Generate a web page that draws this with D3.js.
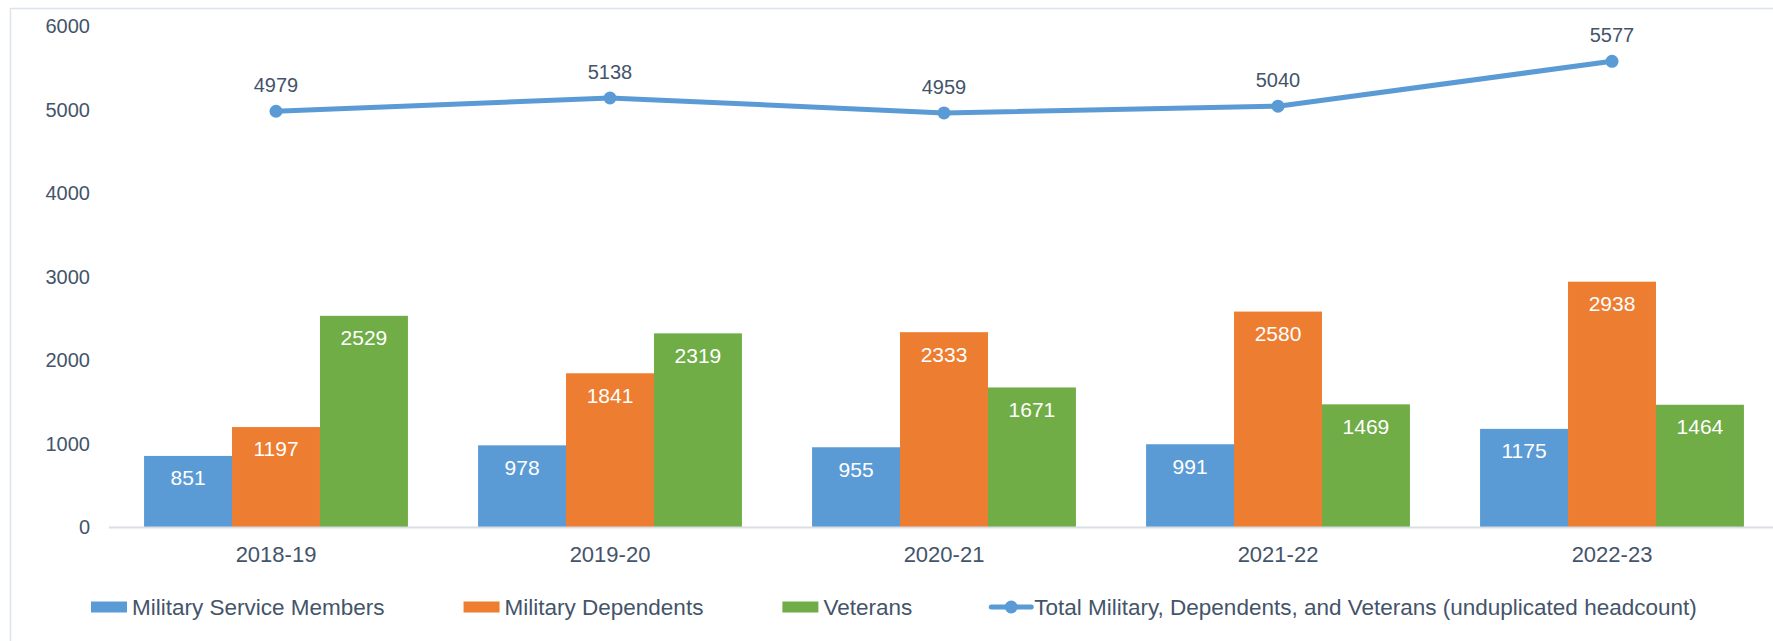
<!DOCTYPE html>
<html>
<head>
<meta charset="utf-8">
<script src="https://cdn.jsdelivr.net/npm/d3@7"></script>
<style>
  body { margin: 0; background: #fff; }
  text { font-family: "Liberation Sans", Arial, sans-serif; }
</style>
</head>
<body>
<script>
const width = 1773;
const height = 641;

const years = ["2018-19", "2019-20", "2020-21", "2021-22", "2022-23"];
const serviceMembers = [851, 978, 955, 991, 1175];
const dependents = [1197, 1841, 2333, 2580, 2938];
const veterans = [2529, 2319, 1671, 1469, 1464];
const totals = [4979, 5138, 4959, 5040, 5577];
const yTicks = [0, 1000, 2000, 3000, 4000, 5000, 6000];

const seriesNames = ["Military Service Members", "Military Dependents", "Veterans"];
const lineName = "Total Military, Dependents, and Veterans (unduplicated headcount)";
const colors = ["#5B9BD5", "#ED7D31", "#70AD47"];
const lineColor = "#5B9BD5";
const textColor = "#44546A";

const svg = d3.select("body").append("svg")
  .attr("width", width)
  .attr("height", height);

// chart frame
svg.append("rect")
  .attr("x", 10.5).attr("y", 8.5)
  .attr("width", width + 20).attr("height", height + 20)
  .attr("fill", "none")
  .attr("stroke", "#dde3ea")
  .attr("stroke-width", 1.5);

const x = d3.scaleBand()
  .domain(years)
  .range([109, 1779])
  .paddingInner(0.21)
  .paddingOuter(0.105);

const x1 = d3.scaleBand()
  .domain(d3.range(3))
  .range([0, x.bandwidth()]);

const y = d3.scaleLinear()
  .domain([0, 6000])
  .range([527, 26]);

const series = [serviceMembers, dependents, veterans];

// y labels
svg.append("g")
  .selectAll("text")
  .data(yTicks)
  .join("text")
  .attr("x", 90)
  .attr("y", d => y(d))
  .attr("dy", "0.35em")
  .attr("text-anchor", "end")
  .attr("font-size", 20)
  .attr("fill", textColor)
  .text(d => d);

// bars
const groups = svg.append("g")
  .selectAll("g")
  .data(years)
  .join("g")
  .attr("transform", d => `translate(${x(d)},0)`);

groups.selectAll("rect")
  .data((d, i) => series.map((s, k) => ({ k, v: s[i] })))
  .join("rect")
  .attr("x", d => x1(d.k))
  .attr("width", x1.bandwidth())
  .attr("y", d => y(d.v))
  .attr("height", d => y(0) - y(d.v))
  .attr("fill", d => colors[d.k]);

groups.selectAll("text")
  .data((d, i) => series.map((s, k) => ({ k, v: s[i] })))
  .join("text")
  .attr("x", d => x1(d.k) + x1.bandwidth() / 2)
  .attr("y", d => y(d.v) + 22)
  .attr("dy", "0.35em")
  .attr("text-anchor", "middle")
  .attr("font-size", 21)
  .attr("fill", "#fff")
  .text(d => d.v);

// baseline
svg.append("line")
  .attr("x1", 109).attr("x2", width)
  .attr("y1", y(0) + 0.5).attr("y2", y(0) + 0.5)
  .attr("stroke", "#d9dee5")
  .attr("stroke-width", 2);

// x labels
svg.append("g")
  .selectAll("text")
  .data(years)
  .join("text")
  .attr("x", d => x(d) + x.bandwidth() / 2)
  .attr("y", 554)
  .attr("dy", "0.35em")
  .attr("text-anchor", "middle")
  .attr("font-size", 22)
  .attr("fill", textColor)
  .text(d => d);

// total line
const cx = d => x(d) + x.bandwidth() / 2;
svg.append("path")
  .datum(years)
  .attr("fill", "none")
  .attr("stroke", lineColor)
  .attr("stroke-width", 5)
  .attr("stroke-linejoin", "round")
  .attr("d", d3.line().x(d => cx(d)).y((d, i) => y(totals[i])));

svg.append("g")
  .selectAll("circle")
  .data(years)
  .join("circle")
  .attr("cx", d => cx(d))
  .attr("cy", (d, i) => y(totals[i]))
  .attr("r", 6.5)
  .attr("fill", lineColor);

svg.append("g")
  .selectAll("text")
  .data(years)
  .join("text")
  .attr("x", d => cx(d))
  .attr("y", (d, i) => y(totals[i]) - 26)
  .attr("dy", "0.35em")
  .attr("text-anchor", "middle")
  .attr("font-size", 20)
  .attr("fill", textColor)
  .text((d, i) => totals[i]);

// legend
const legend = svg.append("g").attr("transform", "translate(91,607)");
let lx = 0;
const items = seriesNames.map((n, i) => ({ name: n, color: colors[i], line: false }))
  .concat([{ name: lineName, color: lineColor, line: true }]);
items.forEach((it, i) => {
  const g = legend.append("g").attr("transform", `translate(${lx},0)`);
  if (it.line) {
    g.append("line").attr("x1", 0).attr("x2", 40).attr("y1", 0).attr("y2", 0)
      .attr("stroke", it.color).attr("stroke-width", 5).attr("stroke-linecap", "round");
    g.append("circle").attr("cx", 20).attr("cy", 0).attr("r", 6.5).attr("fill", it.color);
  } else {
    g.append("rect").attr("x", 0).attr("y", -5.5).attr("width", 36).attr("height", 11)
      .attr("fill", it.color);
  }
  const sw = it.line ? 43 : 41;
  const t = g.append("text")
    .attr("x", sw)
    .attr("dy", "0.35em")
    .attr("font-size", 22.5)
    .attr("fill", textColor)
    .text(it.name);
  lx += sw + t.node().getComputedTextLength() + 79;
});
</script>
</body>
</html>
